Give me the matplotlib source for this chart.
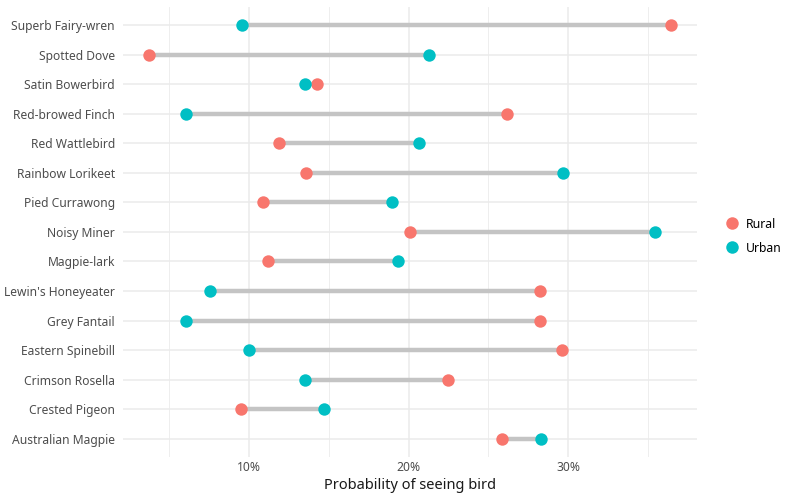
import matplotlib
matplotlib.use("Agg")
import matplotlib.pyplot as plt
from matplotlib.lines import Line2D
from matplotlib.ticker import FuncFormatter, MultipleLocator

birds = ["Australian Magpie", "Crested Pigeon", "Crimson Rosella", "Eastern Spinebill",
         "Grey Fantail", "Lewin's Honeyeater", "Magpie-lark", "Noisy Miner",
         "Pied Currawong", "Rainbow Lorikeet", "Red Wattlebird", "Red-browed Finch",
         "Satin Bowerbird", "Spotted Dove", "Superb Fairy-wren"]
rural = [25.86, 9.51, 22.44, 29.60, 28.25, 28.25, 11.23, 20.08,
         10.88, 13.61, 11.89, 26.18, 14.30, 3.76, 36.39]
urban = [28.29, 14.74, 13.54, 10.02, 6.09, 7.59, 19.32, 35.40,
         18.99, 29.65, 20.68, 6.09, 13.54, 21.28, 9.59]
groups = ["Rural", "Urban"]
colors = ["#F8766D", "#00BFC4"]

plt.rcParams['font.family'] = ['Noto Sans', 'DejaVu Sans']
fig = plt.figure(figsize=(8, 5), dpi=100)
ax = fig.add_axes([0.1534, 0.087, 0.7175, 0.8984])

ys = list(range(1, len(birds) + 1))
for y, r, u in zip(ys, rural, urban):
    ax.plot([r, u], [y, y], color="#C4C4C4", lw=3.2, solid_capstyle="butt", zorder=2)
ax.scatter(rural, ys, s=80, color=colors[0], zorder=3, linewidths=0)
ax.scatter(urban, ys, s=80, color=colors[1], zorder=4, linewidths=0)

lo, hi = min(rural + urban), max(rural + urban)
pad = (hi - lo) * 0.05
ax.set_xlim(lo - pad, hi + pad)
ax.set_ylim(0.4, len(birds) + 0.6)
ax.set_yticks(ys)
ax.set_yticklabels(birds)
ax.xaxis.set_major_locator(MultipleLocator(10))
ax.xaxis.set_minor_locator(MultipleLocator(5))
ax.xaxis.set_major_formatter(FuncFormatter(lambda v, p: f"{v:.0f}%"))
ax.grid(which="major", axis="both", color="#EBEBEB", lw=1.1, zorder=0)
ax.grid(which="minor", axis="x", color="#EBEBEB", lw=0.6, zorder=0)
ax.set_axisbelow(True)
for s in ax.spines.values():
    s.set_visible(False)
ax.tick_params(which="both", length=0, labelsize=8.7, labelcolor="#4D4D4D")
ax.tick_params(axis="y", pad=5.5)
ax.tick_params(axis="x", pad=3.5)
ax.set_xlabel("Probability of seeing bird", fontsize=10.5, color="#1A1A1A", labelpad=2.5)

handles = [Line2D([], [], marker="o", ls="", color=c, markersize=9, markeredgewidth=0) for c in colors]
fig.legend(handles, groups, loc="center left", bbox_to_anchor=(0.893, 0.528), frameon=False,
           fontsize=8.8, handletextpad=0.7, labelspacing=0.9, handlelength=1.0)

fig.savefig("out.png", dpi=100)
